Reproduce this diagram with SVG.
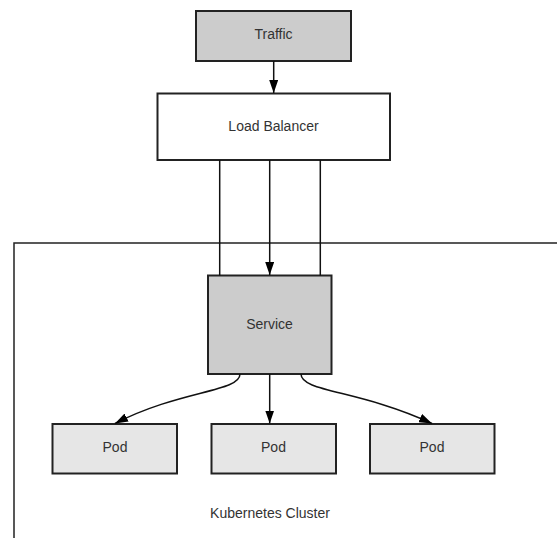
<svg xmlns="http://www.w3.org/2000/svg" width="557" height="538" viewBox="0 0 557 538">
<style>
.box{stroke:#222;stroke-width:2}
.dark{fill:#cccccc}
.light{fill:#e6e6e6}
.white{fill:#fff}
.lbl{font-family:"Liberation Sans",Arial,sans-serif;font-size:14px;fill:#333;text-anchor:middle;dominant-baseline:central}
.conn{fill:none;stroke:#111;stroke-width:1.5}
</style>
<defs>
<marker id="ah" viewBox="0 0 13 9" refX="13" refY="4.5" markerWidth="13" markerHeight="9" markerUnits="userSpaceOnUse" orient="auto">
<path d="M0,0 L13,4.5 L0,9 z" fill="#000"/>
</marker>
</defs>
<rect width="557" height="538" fill="#fff"/>
<g id="cluster">
<path d="M14,560 L14,243 L580,243" fill="none" stroke="#222" stroke-width="1.5"/>
<text class="lbl" x="270" y="513">Kubernetes Cluster</text>
</g>
<g id="traffic">
<rect class="box dark" x="196" y="11" width="155" height="50"/>
<text class="lbl" x="273.5" y="34">Traffic</text>
</g>
<g id="load-balancer">
<rect class="box white" x="157.5" y="93.5" width="232.5" height="66.5"/>
<text class="lbl" x="273.5" y="125.5">Load Balancer</text>
</g>
<g id="service">
<rect class="box dark" x="208" y="275.5" width="123.5" height="98.5"/>
<text class="lbl" x="269.5" y="323.5">Service</text>
</g>
<g id="pod1">
<rect class="box light" x="52.5" y="424" width="124.5" height="49.5"/>
<text class="lbl" x="115" y="447">Pod</text>
</g>
<g id="pod2">
<rect class="box light" x="211.5" y="424" width="124.5" height="49.5"/>
<text class="lbl" x="273.5" y="447">Pod</text>
</g>
<g id="pod3">
<rect class="box light" x="370" y="424" width="124.5" height="49.5"/>
<text class="lbl" x="432" y="447">Pod</text>
</g>
<g id="connectors">
<path class="conn" d="M273.7,61 L273.7,93" marker-end="url(#ah)"/>
<path class="conn" d="M219.7,160 L219.7,275.5"/>
<path class="conn" d="M320.3,160 L320.3,275.5"/>
<path class="conn" d="M269.7,160 L269.7,275" marker-end="url(#ah)"/>
<path class="conn" d="M269.7,374 L269.7,423.5" marker-end="url(#ah)"/>
<path class="conn" d="M240,374 C240,392 180,390 115,423.5" marker-end="url(#ah)"/>
<path class="conn" d="M301,374 C301,392 360,390 432,423.5" marker-end="url(#ah)"/>
</g>
</svg>
